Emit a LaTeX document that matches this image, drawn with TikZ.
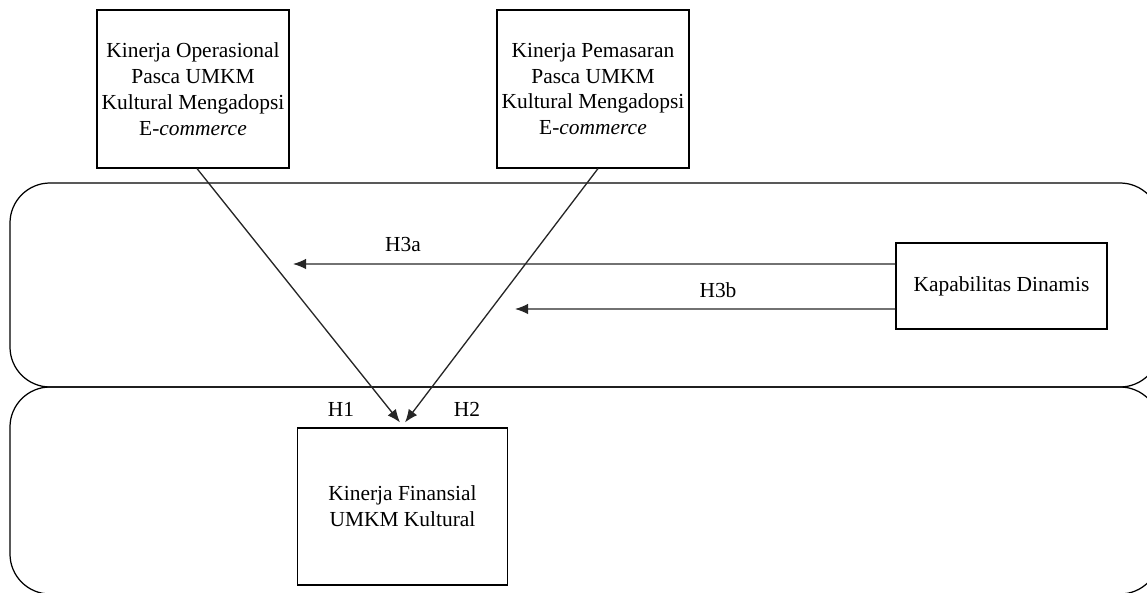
\documentclass[tikz,border=0pt]{standalone}
\usepackage{fontspec}
\setmainfont{Liberation Serif}
\usetikzlibrary{positioning,arrows.meta}
\tikzset{
  linkarrow/.style={-{Latex[length=2.6mm,width=2.1mm]}, line width=0.75pt, black!85},
  varbox/.style={draw, line width=0.65pt, minimum width=3.84cm, minimum height=3.16cm, align=center, inner sep=2pt},
  kapbox/.style={draw, line width=0.65pt, minimum width=4.22cm, minimum height=1.72cm, align=center},
  finbox/.style={draw, line width=0.65pt, minimum width=4.2cm, minimum height=3.14cm, align=center},
  groupbox/.style={draw, line width=0.7pt, rounded corners=0.8cm},
  hlabel/.style={inner sep=1pt}
}

\begin{document}
\begin{tikzpicture}[every node/.style={font=\fontsize{12.2}{14.7}\selectfont}]
  \useasboundingbox (0,0) rectangle (22.94,11.86);
  \clip (0,0) rectangle (22.94,11.86);
  % the two bands
  \draw[groupbox] (0.2,4.12) rectangle (23.2,8.2);
  \draw[groupbox] (0.2,-0.02) rectangle (23.2,4.12);
  % variables
  \node[varbox] (op) at (3.86,10.08) {Kinerja Operasional\\Pasca UMKM\\Kultural Mengadopsi\\E-\textit{commerce}};
  \node[varbox] (mk) at (11.86,10.08) {Kinerja Pemasaran\\Pasca UMKM\\Kultural Mengadopsi\\E-\textit{commerce}};
  \node[kapbox] (kap) at (20.03,6.14) {Kapabilitas Dinamis};
  \node[finbox] (fin) at (8.05,1.73) {Kinerja Finansial\\UMKM Kultural};
  \coordinate (h3aend) at (5.86,6.58);
  \coordinate (h3bend) at (10.3,5.68);
  % paths
  \draw[linkarrow] ([xshift=0.08cm]op.south) -- ([xshift=-0.05cm,yshift=0.1cm]fin.north);
  \draw[linkarrow] ([xshift=0.1cm]mk.south) -- ([xshift=0.05cm,yshift=0.1cm]fin.north);
  \draw[linkarrow] ([yshift=0.44cm]kap.west) -- (h3aend);
  \draw[linkarrow] ([yshift=-0.46cm]kap.west) -- (h3bend);
  \node[hlabel] (h1) at (6.82,3.68) {H1};
  \node[hlabel] (h2) at (9.34,3.68) {H2};
  \node[hlabel] (h3a) at (8.06,6.96) {H3a};
  \node[hlabel] (h3b) at (14.36,6.06) {H3b};
\end{tikzpicture}
\end{document}
